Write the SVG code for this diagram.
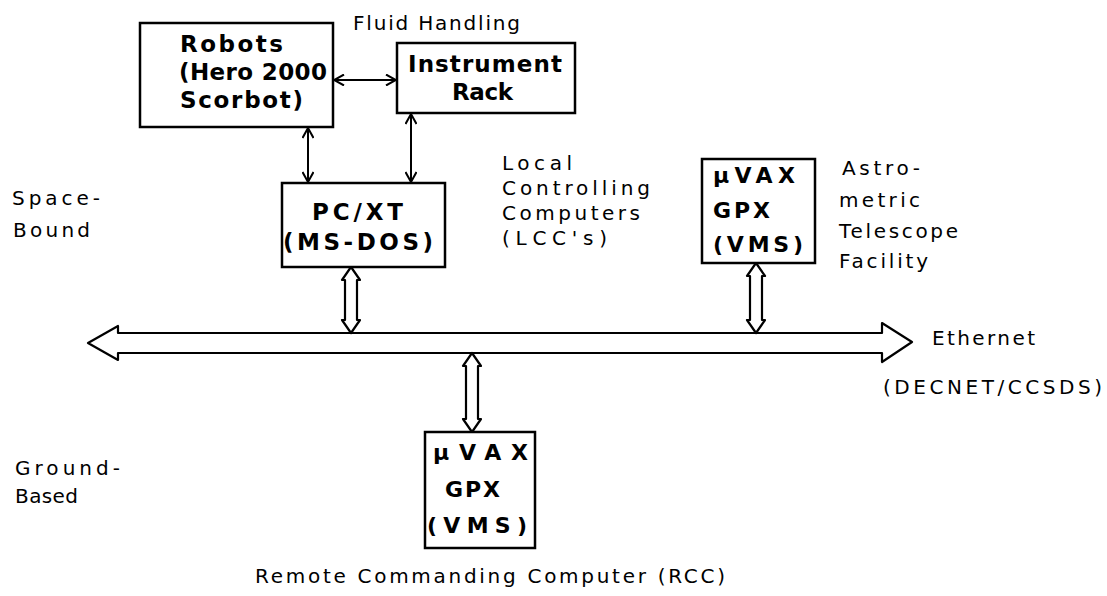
<svg xmlns="http://www.w3.org/2000/svg" width="1107" height="596" viewBox="0 0 1107 596">
<style>
.box{fill:#fff;stroke:#000;stroke-width:2.5}
.b{font-family:"DejaVu Sans","Liberation Sans",sans-serif;font-weight:bold;font-size:23px;fill:#000}
.bv{font-size:22px}
.r{font-family:"DejaVu Sans","Liberation Sans",sans-serif;font-size:20px;fill:#000}
.thin{fill:none;stroke:#000;stroke-width:2}
.hollow{fill:#fff;stroke:#000;stroke-width:2.2;stroke-linejoin:round}
</style>
<defs>
<marker id="v" viewBox="0 0 12 12" refX="11" refY="6" markerWidth="12" markerHeight="12" markerUnits="userSpaceOnUse" orient="auto-start-reverse">
<path d="M1,0.5 L11,6 L1,11.5" fill="none" stroke="#000" stroke-width="2"/>
</marker>
</defs>
<rect width="1107" height="596" fill="#fff"/>

<g id="connectors">
<path class="thin" d="M334 80 H396" marker-start="url(#v)" marker-end="url(#v)"/>
<path class="thin" d="M308 128 V182" marker-start="url(#v)" marker-end="url(#v)"/>
<path class="thin" d="M411 114 V182" marker-start="url(#v)" marker-end="url(#v)"/>
<path id="ethernet-bus" class="hollow" d="M88 343 L118 326 L118 333 L882 333 L882 323 L912 342 L882 362 L882 353 L118 353 L118 360 Z"/>
<path class="hollow" d="M351 267 L360 280 L357 280 L357 320 L360 320 L351 333 L342 320 L345 320 L345 280 L342 280 Z"/>
<path class="hollow" d="M756 263 L765 276 L762 276 L762 320 L765 320 L756 333 L747 320 L750 320 L750 276 L747 276 Z"/>
<path class="hollow" d="M472 353 L481 366 L478 366 L478 419 L481 419 L472 432 L463 419 L466 419 L466 366 L463 366 Z"/>
</g>

<g id="robots">
<rect class="box" x="140" y="23" width="193" height="104"/>
<text class="b" x="180" y="52" textLength="103" lengthAdjust="spacing">Robots</text>
<text class="b" x="179" y="80" textLength="148" lengthAdjust="spacing">(Hero 2000</text>
<text class="b" x="180" y="108" textLength="123" lengthAdjust="spacing">Scorbot)</text>
</g>

<g id="instrument-rack">
<rect class="box" x="397" y="43" width="178" height="70"/>
<text class="b" x="408" y="72" textLength="154" lengthAdjust="spacing">Instrument</text>
<text class="b" x="452" y="100" textLength="61" lengthAdjust="spacing">Rack</text>
</g>

<g id="fluid-handling-label">
<text class="r" x="353" y="30" textLength="167" lengthAdjust="spacing">Fluid Handling</text>
</g>

<g id="pc-xt">
<rect class="box" x="282" y="183" width="163" height="84"/>
<text class="b" x="312" y="220" textLength="91" lengthAdjust="spacing">PC/XT</text>
<text class="b" x="283" y="250" textLength="150" lengthAdjust="spacing">(MS-DOS)</text>
</g>

<g id="lcc-label">
<text class="r" x="502" y="170" textLength="70" lengthAdjust="spacing">Local</text>
<text class="r" x="502" y="195" textLength="148" lengthAdjust="spacing">Controlling</text>
<text class="r" x="502" y="220" textLength="138" lengthAdjust="spacing">Computers</text>
<text class="r" x="502" y="245" textLength="105" lengthAdjust="spacing">(LCC's)</text>
</g>

<g id="uvax-telescope">
<rect class="box" x="702" y="159" width="113" height="104"/>
<text class="b bv" x="713" y="183" textLength="82" lengthAdjust="spacing">µVAX</text>
<text class="b bv" x="713" y="218" textLength="57" lengthAdjust="spacing">GPX</text>
<text class="b bv" x="713" y="252" textLength="90" lengthAdjust="spacing">(VMS)</text>
</g>

<g id="telescope-label">
<text class="r" x="842" y="175" font-size="19" textLength="78" lengthAdjust="spacing">Astro-</text>
<text class="r" x="839" y="207" font-size="19" textLength="81" lengthAdjust="spacing">metric</text>
<text class="r" x="839" y="238" font-size="19" textLength="119" lengthAdjust="spacing">Telescope</text>
<text class="r" x="839" y="268" font-size="19" textLength="89" lengthAdjust="spacing">Facility</text>
</g>

<g id="space-bound-label">
<text class="r" x="12" y="205" font-size="22" textLength="88" lengthAdjust="spacing">Space-</text>
<text class="r" x="13" y="237" font-size="22" textLength="77" lengthAdjust="spacing">Bound</text>
</g>

<g id="ethernet-label">
<text class="r" x="932" y="345" font-size="19" textLength="103" lengthAdjust="spacing">Ethernet</text>
<text class="r" x="883" y="394" font-size="22" textLength="219" lengthAdjust="spacing">(DECNET/CCSDS)</text>
</g>

<g id="ground-based-label">
<text class="r" x="15" y="475" font-size="21" textLength="105" lengthAdjust="spacing">Ground-</text>
<text class="r" x="15" y="503" font-size="21" textLength="63" lengthAdjust="spacing">Based</text>
</g>

<g id="uvax-rcc">
<rect class="box" x="425" y="432" width="110" height="116"/>
<text class="b bv" x="433" y="460" textLength="95" lengthAdjust="spacing">µVAX</text>
<text class="b bv" x="445" y="497" textLength="55" lengthAdjust="spacing">GPX</text>
<text class="b bv" x="427" y="533" textLength="100" lengthAdjust="spacing">(VMS)</text>
</g>

<g id="rcc-label">
<text class="r" x="255" y="583" font-size="22" textLength="470" lengthAdjust="spacing">Remote Commanding Computer (RCC)</text>
</g>
</svg>
